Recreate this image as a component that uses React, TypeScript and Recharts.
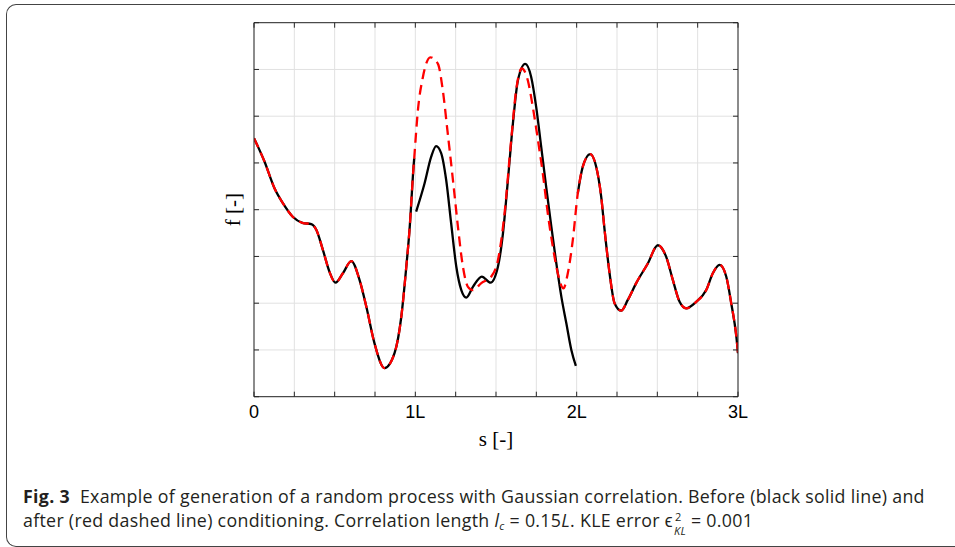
import { LineChart, Line, XAxis, YAxis, CartesianGrid, Label } from 'recharts'

// tick positions (in units of L) and labels
const X_TICKS = [0, 0.25, 0.5, 0.75, 1, 1.25, 1.5, 1.75, 2, 2.25, 2.5, 2.75, 3]
const Y_TICKS = [0, 1, 2, 3, 4, 5, 6, 7, 8]
const X_LABELS: Record<number, string> = { 0: '0', 1: '1L', 2: '2L', 3: '3L' }

// first interval, same before and after conditioning
const s1 = [0, 0.065, 0.127, 0.179, 0.24, 0.3, 0.355, 0.386, 0.427, 0.468, 0.505, 0.551, 0.603, 0.654, 0.696, 0.747, 0.809, 0.871, 0.913, 0.944, 0.964, 0.989, 0.993]
const f1 = [5.53, 5.03, 4.46, 4.14, 3.85, 3.72, 3.69, 3.57, 3.14, 2.67, 2.44, 2.64, 2.9, 2.5, 1.93, 1.14, 0.61, 0.93, 1.71, 2.78, 3.57, 4.92, 5.1]

// middle interval, before conditioning (black)
const s2 = [1.005, 1.057, 1.098, 1.129, 1.16, 1.191, 1.222, 1.254, 1.285, 1.316, 1.357, 1.412, 1.466, 1.512, 1.543, 1.574, 1.605, 1.636, 1.681, 1.718, 1.749, 1.78, 1.811, 1.843, 1.874, 1.905, 1.936, 1.967, 1.995]
const f2 = [3.96, 4.56, 5.13, 5.36, 5.21, 4.64, 3.71, 2.78, 2.28, 2.12, 2.35, 2.57, 2.44, 2.78, 3.49, 4.64, 5.85, 6.77, 7.12, 6.84, 6.2, 5.35, 4.49, 3.64, 2.85, 2.14, 1.57, 1.0, 0.66]

// middle interval, after conditioning (red)
const s2c = [1.016, 1.047, 1.093, 1.14, 1.17, 1.201, 1.233, 1.264, 1.295, 1.326, 1.357, 1.409, 1.471, 1.512, 1.553, 1.594, 1.625, 1.66, 1.697, 1.728, 1.76, 1.79, 1.821, 1.852, 1.883, 1.918, 1.945, 1.976]
const f2c = [6.13, 6.84, 7.26, 7.12, 6.56, 5.63, 4.64, 3.64, 2.78, 2.35, 2.28, 2.43, 2.57, 2.92, 3.92, 5.49, 6.56, 7.02, 6.77, 6.2, 5.49, 4.78, 3.92, 3.21, 2.64, 2.32, 2.64, 3.35]

// last interval, same before and after
const s3 = [2.007, 2.038, 2.084, 2.121, 2.152, 2.173, 2.204, 2.235, 2.276, 2.317, 2.369, 2.441, 2.503, 2.555, 2.596, 2.638, 2.679, 2.741, 2.803, 2.844, 2.886, 2.927, 2.958, 2.99, 3.0]
const f3 = [4.35, 4.92, 5.19, 4.92, 4.28, 3.57, 2.64, 2.0, 1.84, 2.07, 2.43, 2.85, 3.24, 2.99, 2.5, 2.03, 1.89, 2.03, 2.28, 2.64, 2.82, 2.57, 2.0, 1.28, 0.93]

const zip = (s: number[], f: number[]) => s.map((x, i) => ({ s: x, f: f[i] }))

const before1 = zip(s1, f1)
const before2 = zip(s2, f2)
const before3 = zip(s3, f3)
const after = [...before1, ...zip(s2c, f2c), ...before3]

const AXIS = '#262626'
const serif = '"Liberation Serif", "Times New Roman", serif'

export default function App() {
  const noLabel = () => ''

  return (
    <div style={{ position: 'absolute', left: 0, top: 0, width: 955, height: 547, overflow: 'hidden', background: '#fff' }}>
      <div style={{
        position: 'absolute', left: 6, top: 4, width: 949, height: 543, boxSizing: 'border-box',
        borderTop: '1px solid #444', borderLeft: '1px solid #444', borderBottom: '1px solid #444',
        borderTopLeftRadius: 10, borderBottomLeftRadius: 10,
      }} />

      <div style={{ position: 'absolute', left: 0, top: 0, fontFamily: serif }}>
        <LineChart width={955} height={547} margin={{ top: 21.7, right: 216, bottom: 100.3, left: 253 }}>
          <CartesianGrid stroke="#e1e1e1" strokeWidth={1} />
          <XAxis type="number" dataKey="s" domain={[0, 3]} ticks={X_TICKS} interval={0} allowDataOverflow
            tickFormatter={(v: number) => X_LABELS[v] ?? ''} tickSize={-5} tickMargin={13.3} height={50}
            stroke={AXIS} tick={{ fill: '#000', fontSize: 18, fontFamily: '"Liberation Sans", Arial, sans-serif' }}>
            <Label value="s [-]" position="insideBottom" offset={1} fill="#000" fontSize={21} style={{ fontFamily: serif }} />
          </XAxis>
          <XAxis xAxisId="top" orientation="top" type="number" dataKey="s" domain={[0, 3]} ticks={X_TICKS} interval={0}
            allowDataOverflow tickFormatter={noLabel} tickSize={-5} height={1} stroke={AXIS} />
          <YAxis type="number" domain={[0, 8]} ticks={Y_TICKS} interval={0} allowDataOverflow tickFormatter={noLabel}
            tickSize={-5} width={1} stroke={AXIS}>
            <Label value="f [-]" angle={-90} position="insideLeft" offset={-20} textAnchor="middle" fill="#000" fontSize={21} style={{ fontFamily: serif }} />
          </YAxis>
          <YAxis yAxisId="right" orientation="right" type="number" domain={[0, 8]} ticks={Y_TICKS} interval={0}
            allowDataOverflow tickFormatter={noLabel} tickSize={-5} width={1} stroke={AXIS} />

          <Line data={before1} dataKey="f" name="before-1" type="monotone" stroke="#000" strokeWidth={2.3} dot={false} activeDot={false} isAnimationActive={false} />
          <Line data={before2} dataKey="f" name="before-2" type="monotone" stroke="#000" strokeWidth={2.3} dot={false} activeDot={false} isAnimationActive={false} />
          <Line data={before3} dataKey="f" name="before-3" type="monotone" stroke="#000" strokeWidth={2.3} dot={false} activeDot={false} isAnimationActive={false} />
          <Line data={after} dataKey="f" name="after" type="monotone" stroke="#ff0000" strokeWidth={2.3} strokeDasharray="10 6" dot={false} activeDot={false} isAnimationActive={false} />
        </LineChart>
      </div>

      <div style={{
        position: 'absolute', left: 23, top: 484, fontFamily: '"Open Sans", sans-serif', fontSize: 17.8,
        letterSpacing: 0.3, lineHeight: '24px', color: '#231f20', whiteSpace: 'nowrap',
      }}>
        <div><b>Fig. 3</b><span style={{ marginLeft: 10 }}>Example of generation of a random process with Gaussian correlation. Before (black solid line) and</span></div>
        <div>
          after (red dashed line) conditioning. Correlation length <i>l</i><sub style={{ fontSize: 11, fontStyle: 'italic', verticalAlign: -3 }}>c</sub> = 0.15<i>L</i>. KLE error ϵ
          <span style={{ display: 'inline-block', position: 'relative', width: 18, height: 10 }}>
            <span style={{ position: 'absolute', left: 2, top: -12, fontSize: 11 }}>2</span>
            <i style={{ position: 'absolute', left: 1, top: 2, fontSize: 11 }}>KL</i>
          </span>
          = 0.001
        </div>
      </div>
    </div>
  )
}
